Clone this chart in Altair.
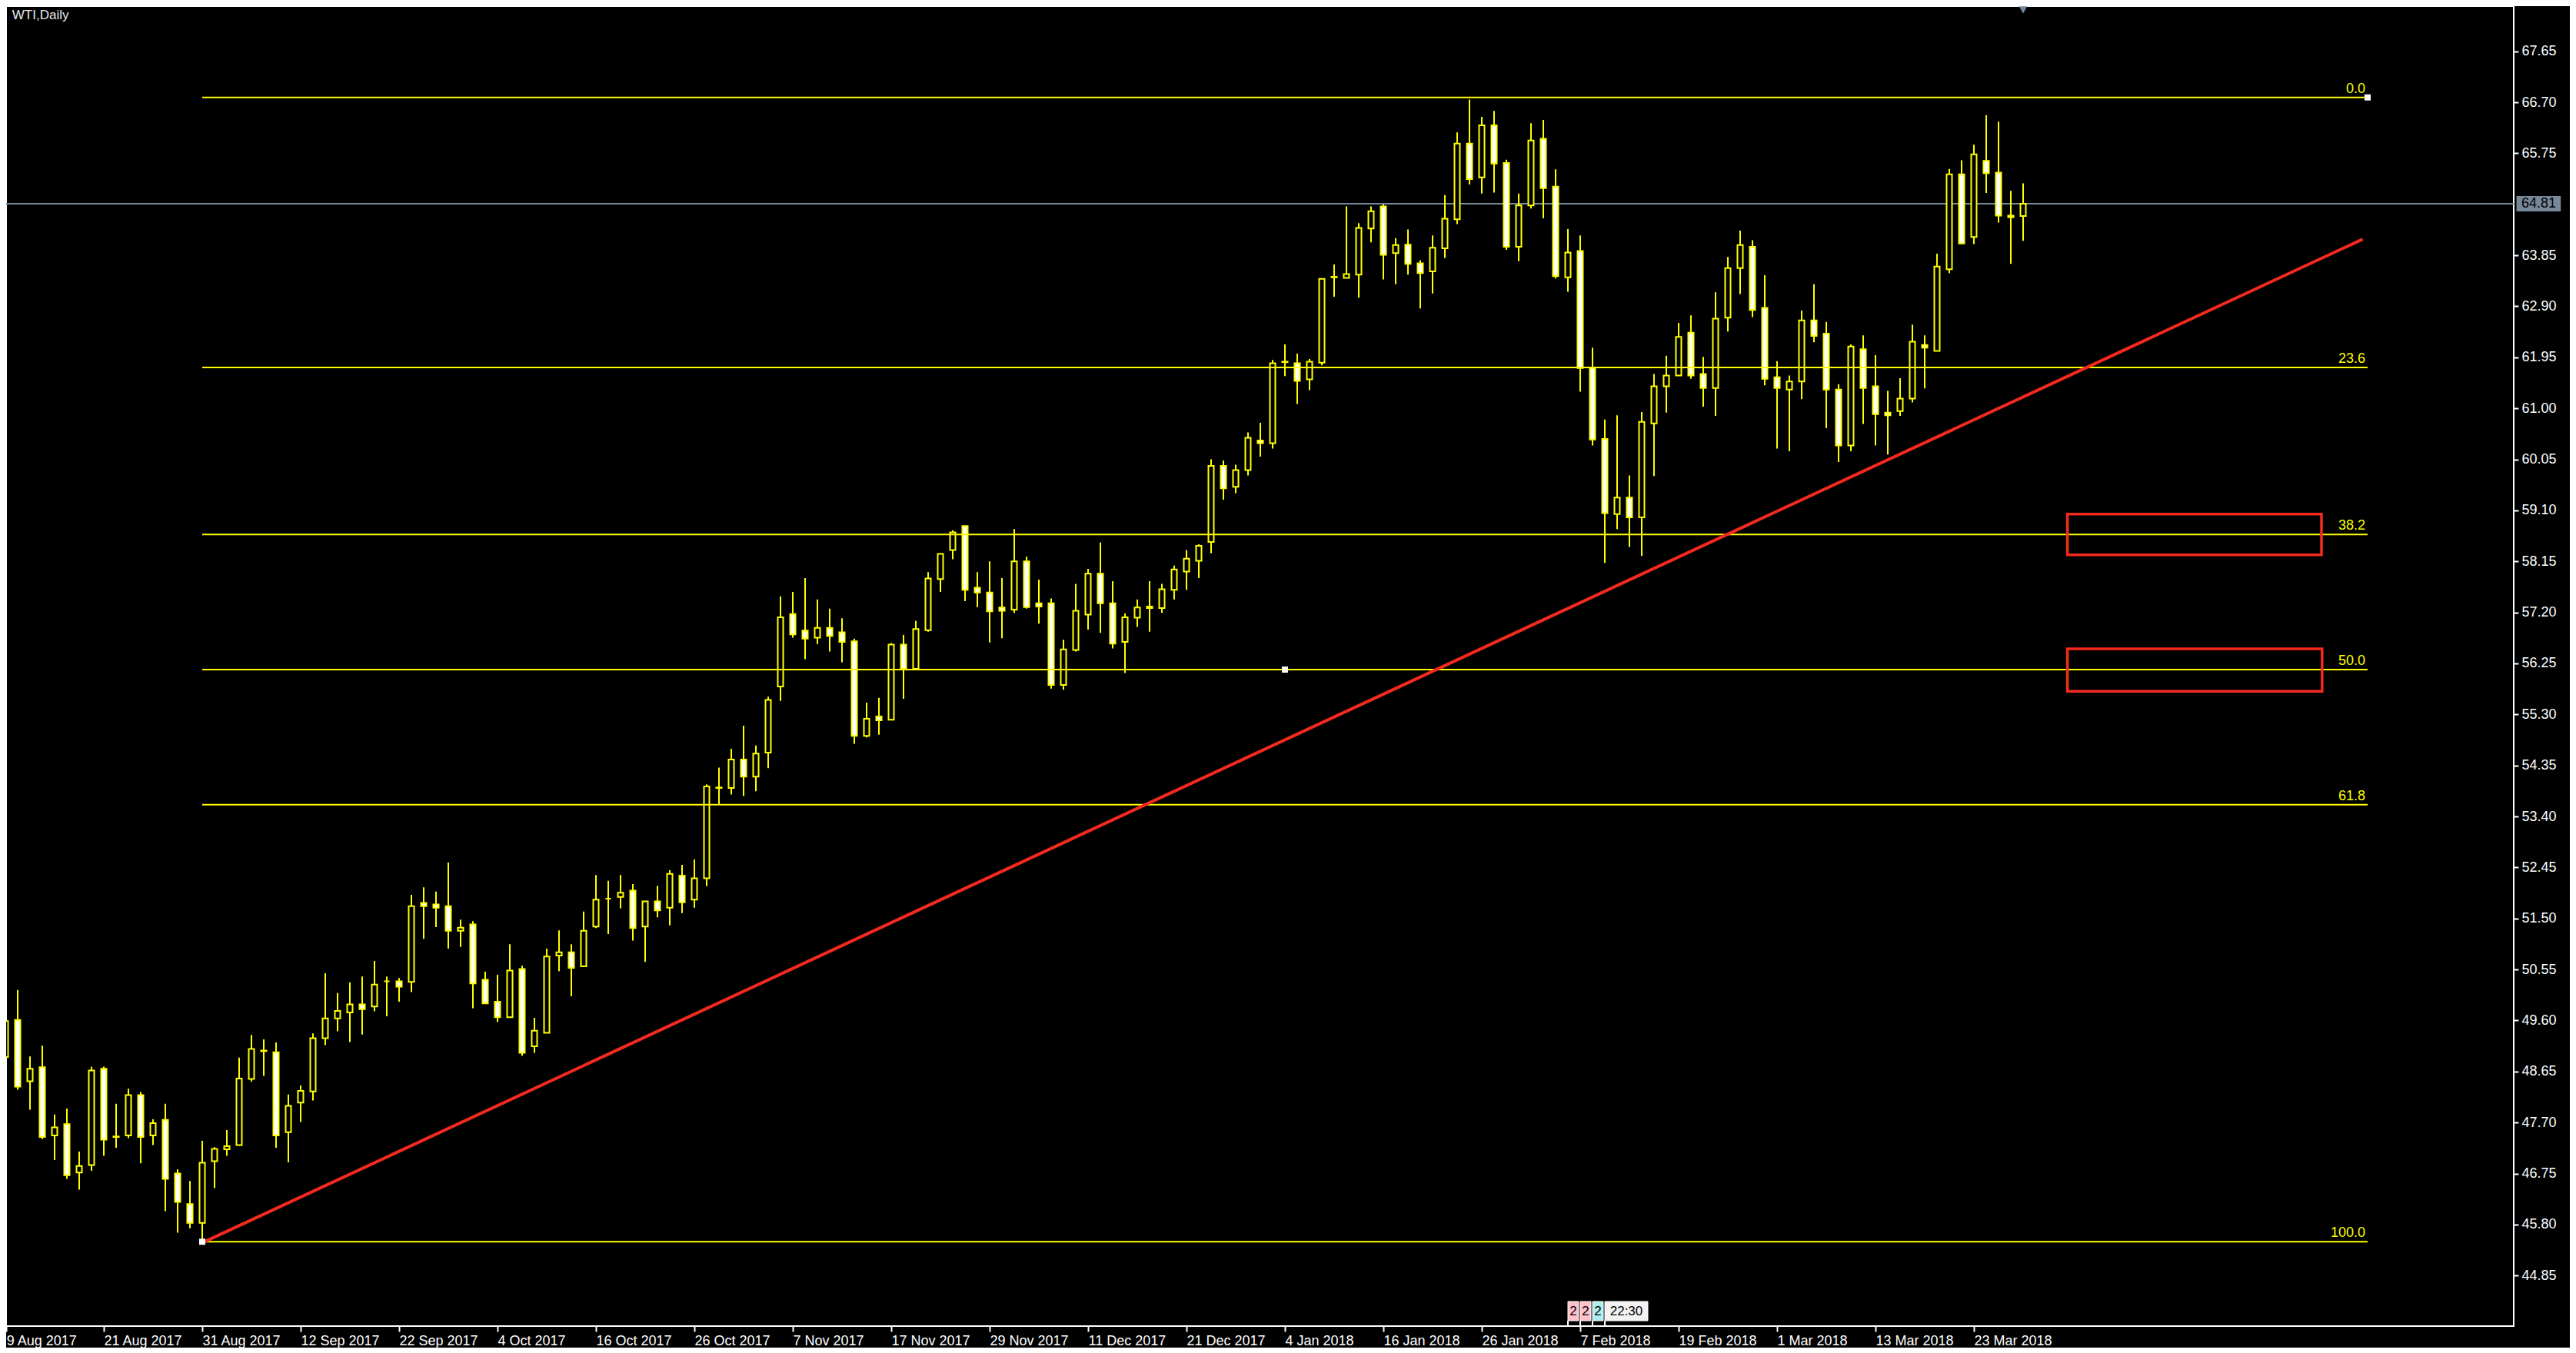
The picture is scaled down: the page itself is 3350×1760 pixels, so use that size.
import altair as alt
import pandas as pd
import numpy as np

# ---------------- data ----------------
opens = [48.92, 49.61, 48.47, 48.73, 47.46, 47.67, 46.77, 46.91, 48.70, 47.44,
         47.46, 48.21, 47.46, 47.75, 46.75, 46.18, 45.83, 46.98, 47.20, 47.28,
         48.51, 49.04, 49.01, 47.52, 48.07, 48.28, 49.27, 49.64, 49.75, 49.90,
         49.86, 50.33, 50.33, 50.32, 51.79, 51.76, 51.73, 51.27, 51.39, 50.36,
         49.95, 49.66, 50.56, 49.12, 49.37, 50.81, 50.87, 50.61, 51.35, 51.87,
         51.90, 52.02, 51.35, 51.82, 51.70, 52.30, 51.85, 52.25, 53.94, 53.93,
         54.46, 54.14, 54.59, 55.82, 57.17, 56.86, 56.73, 56.91, 56.83, 56.66,
         54.90, 55.26, 55.20, 56.60, 56.15, 56.87, 57.82, 58.36, 58.81, 57.66,
         57.57, 57.29, 57.25, 58.15, 57.37, 57.37, 55.85, 56.50, 57.16, 57.92,
         57.37, 56.65, 57.10, 57.31, 57.28, 57.62, 57.96, 58.16, 58.51, 59.93,
         59.54, 59.85, 60.40, 60.35, 61.87, 61.84, 61.54, 61.85, 63.45, 63.43,
         63.49, 64.35, 64.76, 63.89, 64.05, 63.70, 63.55, 63.98, 64.52, 65.93,
         65.30, 66.27, 65.57, 64.01, 64.78, 66.02, 65.13, 63.44, 63.93, 61.75,
         60.43, 59.03, 59.34, 58.97, 60.72, 61.41, 61.61, 62.41, 61.64, 61.38,
         62.69, 63.61, 64.01, 62.87, 61.58, 61.35, 61.50, 62.64, 62.39, 61.35,
         60.31, 62.10, 61.41, 60.92, 60.95, 61.18, 62.18, 62.07, 63.59, 65.36,
         64.19, 65.61, 65.39, 64.59, 64.58]
highs = [49.75, 50.17, 48.93, 49.13, 47.85, 47.96, 47.16, 48.74, 48.74, 48.05,
         48.33, 48.27, 47.76, 48.05, 46.83, 46.61, 47.36, 47.24, 47.56, 48.91,
         49.33, 49.25, 49.19, 48.22, 48.39, 49.36, 50.48, 50.11, 50.31, 50.42,
         50.71, 50.42, 50.39, 51.94, 52.08, 52.00, 52.54, 51.48, 51.45, 50.51,
         50.45, 51.02, 50.62, 49.65, 50.94, 51.28, 51.02, 51.63, 52.31, 52.20,
         52.31, 52.14, 51.82, 52.11, 52.40, 52.50, 52.60, 54.00, 54.31, 54.66,
         55.09, 54.72, 55.63, 57.50, 57.58, 57.84, 57.44, 57.27, 57.09, 56.71,
         55.52, 55.61, 56.63, 56.78, 57.04, 57.95, 58.29, 58.73, 58.81, 57.95,
         58.15, 57.84, 58.75, 58.24, 57.81, 57.46, 56.69, 57.73, 58.01, 58.50,
         57.78, 57.18, 57.44, 57.78, 57.73, 58.07, 58.36, 58.47, 60.05, 60.03,
         59.95, 60.55, 60.73, 61.90, 62.19, 62.02, 61.92, 63.41, 63.68, 64.76,
         64.45, 64.76, 64.80, 64.17, 64.33, 63.76, 64.22, 64.97, 66.14, 66.75,
         66.43, 66.54, 65.63, 65.00, 66.31, 66.37, 65.45, 64.34, 64.22, 62.13,
         60.79, 60.87, 59.75, 60.93, 61.64, 61.98, 62.59, 62.73, 61.96, 63.16,
         63.82, 64.31, 64.13, 63.48, 61.88, 61.61, 62.82, 63.31, 62.61, 61.45,
         62.19, 62.36, 61.99, 61.33, 61.56, 62.56, 62.36, 63.88, 65.46, 65.62,
         65.91, 66.46, 66.34, 65.05, 65.19]
lows = [48.85, 48.31, 47.94, 47.39, 47.00, 46.65, 46.45, 46.80, 47.08, 47.23,
        47.41, 46.94, 47.28, 46.05, 45.65, 45.73, 45.48, 46.48, 47.08, 47.27,
        48.46, 48.57, 47.23, 46.96, 47.71, 48.11, 49.14, 49.40, 49.20, 49.34,
        49.77, 49.68, 49.95, 50.13, 51.12, 51.34, 50.94, 50.97, 49.83, 49.91,
        49.57, 49.66, 48.94, 49.00, 49.37, 50.52, 50.05, 50.60, 51.32, 51.21,
        51.69, 51.09, 50.69, 51.52, 51.37, 51.60, 51.70, 52.10, 53.62, 53.81,
        53.78, 53.87, 54.30, 55.55, 56.73, 56.33, 56.61, 56.47, 56.27, 54.75,
        54.87, 54.92, 55.19, 55.59, 56.15, 56.84, 57.58, 58.19, 57.41, 57.30,
        56.64, 56.72, 57.19, 57.27, 56.99, 55.78, 55.76, 56.47, 56.88, 56.82,
        56.53, 56.07, 56.93, 56.84, 57.19, 57.44, 57.62, 57.84, 58.30, 59.30,
        59.42, 59.75, 60.10, 60.25, 61.60, 61.08, 61.34, 61.80, 63.08, 63.43,
        63.06, 64.09, 63.40, 63.31, 63.49, 62.86, 63.14, 63.80, 64.43, 65.17,
        65.00, 65.02, 63.95, 63.74, 64.72, 64.54, 63.42, 63.17, 61.31, 60.31,
        58.12, 58.75, 58.42, 58.25, 59.74, 60.92, 61.61, 61.55, 61.03, 60.86,
        62.43, 63.13, 62.70, 61.43, 60.25, 60.20, 61.17, 62.23, 60.63, 60.00,
        60.20, 60.71, 60.31, 60.14, 60.86, 61.11, 61.37, 62.07, 63.52, 64.07,
        64.06, 65.01, 64.46, 63.69, 64.12]
closes = [49.59, 48.37, 48.70, 47.43, 47.61, 46.72, 46.89, 48.67, 47.38, 47.43,
          48.21, 47.43, 47.69, 46.65, 46.22, 45.83, 46.95, 47.21, 47.26, 48.52,
          49.07, 49.03, 47.46, 48.01, 48.29, 49.27, 49.64, 49.78, 49.90, 49.81,
          50.27, 50.33, 50.23, 51.73, 51.73, 51.70, 51.27, 51.33, 50.29, 49.92,
          49.66, 50.53, 49.00, 49.41, 50.79, 50.87, 50.58, 51.27, 51.85, 51.87,
          51.98, 51.32, 51.82, 51.65, 52.33, 51.80, 52.25, 53.96, 53.93, 54.46,
          54.14, 54.57, 55.57, 57.11, 56.79, 56.71, 56.91, 56.76, 56.65, 54.90,
          55.22, 55.19, 56.60, 56.15, 56.89, 57.83, 58.29, 58.69, 57.62, 57.57,
          57.22, 57.23, 58.15, 57.30, 57.31, 55.85, 56.51, 57.23, 57.92, 57.37,
          56.62, 57.11, 57.29, 57.28, 57.63, 58.00, 58.20, 58.44, 59.93, 59.51,
          59.85, 60.45, 60.35, 61.84, 61.86, 61.51, 61.87, 63.41, 63.44, 63.50,
          64.36, 64.67, 63.86, 64.04, 63.69, 63.52, 63.99, 64.53, 65.93, 65.27,
          66.27, 65.56, 64.01, 64.78, 65.99, 65.10, 63.46, 63.90, 61.75, 60.42,
          59.05, 59.34, 58.97, 60.75, 61.41, 61.61, 62.33, 61.61, 61.38, 62.67,
          63.61, 64.04, 62.83, 61.55, 61.38, 61.50, 62.64, 62.35, 61.35, 60.31,
          62.15, 61.38, 60.89, 60.87, 61.18, 62.24, 62.13, 63.64, 65.36, 64.07,
          65.73, 65.38, 64.59, 64.56, 64.81]

x_tick_labels = ["9 Aug 2017", "21 Aug 2017", "31 Aug 2017", "12 Sep 2017", "22 Sep 2017",
                 "4 Oct 2017", "16 Oct 2017", "26 Oct 2017", "7 Nov 2017", "17 Nov 2017",
                 "29 Nov 2017", "11 Dec 2017", "21 Dec 2017", "4 Jan 2018", "16 Jan 2018",
                 "26 Jan 2018", "7 Feb 2018", "19 Feb 2018", "1 Mar 2018", "13 Mar 2018",
                 "23 Mar 2018"]
x_tick_bars = [0, 8, 16, 24, 32, 40, 48, 56, 64, 72, 80, 88, 96, 104, 112, 120, 128,
               136, 144, 152, 160]
y_tick_values = [44.85, 45.80, 46.75, 47.70, 48.65, 49.60, 50.55, 51.50, 52.45, 53.40,
                 54.35, 55.30, 56.25, 57.20, 58.15, 59.10, 60.05, 61.00, 61.95, 62.90,
                 63.85, 65.75, 66.70, 67.65]

fib_names = ["0.0", "23.6", "38.2", "50.0", "61.8", "100.0"]
fib_ratios = [0.0, 0.236, 0.382, 0.5, 0.618, 1.0]
fib_high = 66.79
fib_low = 45.48
fib_start_bar = 16
fib_end_bar = 192

trend_bars = [16, 191.6]
trend_prices = [45.46, 64.15]

box_left = [167.6, 167.6]
box_right = [188.25, 188.3]
box_bottom = [58.27, 55.73]
box_top = [59.03, 56.52]

last_price = 64.81
symbol_title = "WTI,Daily"
event_texts = ["2", "2", "2", "22:30"]
event_colors = ["#ffc0cb", "#ffc0cb", "#afeeee", "#f2f2f2"]
event_left = [127.0, 128.0, 129.0, 130.0]
event_right = [127.875, 128.875, 129.875, 133.5]

# ---------------- styles ----------------
YEL = "#ffff00"
RED = "#f42a1e"
GRAY = "#778899"
FONT = "Liberation Sans"
X_MIN, X_MAX = 0.0625, 203.875

xs = alt.Scale(domain=[X_MIN, X_MAX], nice=False, zero=False)
ys = alt.Scale(domain=[43.909, 68.49], nice=False, zero=False)

# the first label sits on the very left edge: keep its tick inside the range
tick_pos = [max(b, X_MIN + 0.01) for b in x_tick_bars]
label_js = "[" + ",".join("'" + s + "'" for s in x_tick_labels) + "]"
xaxis = alt.Axis(values=tick_pos, labelExpr=label_js + "[round(datum.value/8)]",
                 title=None, domain=False, grid=False, tickColor="white", tickSize=7,
                 tickWidth=2, labelColor="white", labelAlign="left", labelBaseline="top",
                 labelPadding=3, labelFont=FONT, labelFontSize=18, labelOverlap=False,
                 labelFlush=False, labelBound=False, orient="bottom")
yaxis = alt.Axis(values=y_tick_values, format=".2f", title=None, domain=False, grid=False,
                 tickColor="white", tickSize=6, tickWidth=2, labelColor="white",
                 labelAlign="left", labelBaseline="middle", labelPadding=4, labelFont=FONT,
                 labelFontSize=18, labelOverlap=False, labelFlush=False, labelBound=False,
                 orient="right")


def X(f):
    return alt.X(f, scale=xs, axis=xaxis)


def Y(f):
    return alt.Y(f, scale=ys, axis=yaxis)


n = len(opens)
df = pd.DataFrame({"i": np.arange(n), "o": opens, "h": highs, "l": lows, "c": closes})
df["xl"] = df["i"] - 0.219
df["xr"] = df["i"] + 0.219
df["fill"] = np.where(df["c"] < df["o"], "white", "black")

# current price line
price_df = pd.DataFrame({"a": [X_MIN], "b": [X_MAX], "p": [last_price]})
price_line = alt.Chart(price_df).mark_rule(color=GRAY, strokeWidth=2).encode(
    x=X("a:Q"), x2="b", y=Y("p:Q"))

wicks = alt.Chart(df).mark_rule(color=YEL, strokeWidth=2).encode(
    x=X("i:Q"), y=Y("l:Q"), y2="h")
bodies = alt.Chart(df).mark_rect(stroke=YEL, strokeWidth=2).encode(
    x=X("xl:Q"), x2="xr", y=Y("o:Q"), y2="c", fill=alt.Fill("fill:N", scale=None))

fib_df = pd.DataFrame({
    "name": fib_names,
    "p": [fib_high - r * (fib_high - fib_low) for r in fib_ratios],
    "a": [fib_start_bar] * len(fib_names),
    "b": [fib_end_bar] * len(fib_names),
})
fib_lines = alt.Chart(fib_df).mark_rule(color=YEL, strokeWidth=2).encode(
    x=X("a:Q"), x2="b", y=Y("p:Q"))
fib_text = alt.Chart(fib_df).mark_text(color=YEL, align="right", baseline="alphabetic",
                                       dx=-3, dy=-6, font=FONT, fontSize=18).encode(
    x=X("b:Q"), y=Y("p:Q"), text="name:N")

handle_df = pd.DataFrame({
    "i": [fib_start_bar, (fib_start_bar + fib_end_bar) / 2, fib_end_bar],
    "p": [fib_low, (fib_low + fib_high) / 2, fib_high]})
handles = alt.Chart(handle_df).mark_square(color="white", opacity=1, size=64).encode(
    x=X("i:Q"), y=Y("p:Q"))

box_df = pd.DataFrame({"a": box_left, "b": box_right, "lo": box_bottom, "hi": box_top})
boxes = alt.Chart(box_df).mark_rect(fill=None, fillOpacity=0, stroke=RED, strokeWidth=3.5).encode(
    x=X("a:Q"), x2="b", y=Y("lo:Q"), y2="hi")

trend_df = pd.DataFrame({"a": [trend_bars[0]], "b": [trend_bars[1]],
                         "pa": [trend_prices[0]], "pb": [trend_prices[1]]})
trend = alt.Chart(trend_df).mark_rule(color=RED, strokeWidth=4).encode(
    x=X("a:Q"), x2="b", y=Y("pa:Q"), y2="pb")

title_df = pd.DataFrame({"i": [0.55], "p": [68.32], "t": [symbol_title]})
title = alt.Chart(title_df).mark_text(color="#e8e8e8", align="left", baseline="middle",
                                      font=FONT, fontSize=17).encode(
    x=X("i:Q"), y=Y("p:Q"), text="t:N")

tri_df = pd.DataFrame({"i": [n - 1], "p": [68.42]})
tri = alt.Chart(tri_df).mark_point(shape="triangle-down", filled=True, color=GRAY,
                                   opacity=1, size=110).encode(x=X("i:Q"), y=Y("p:Q"))

# last price tag on the price axis
tag_df = pd.DataFrame({"a": [204.1], "b": [207.7], "lo": [64.668], "hi": [64.954],
                       "m": [205.9], "p": [last_price], "t": [f"{last_price:.2f}"]})
tag_box = alt.Chart(tag_df).mark_rect(color=GRAY).encode(
    x=X("a:Q"), x2="b", y=Y("lo:Q"), y2="hi")
tag_text = alt.Chart(tag_df).mark_text(color="black", align="center", baseline="middle",
                                       font=FONT, fontSize=18).encode(
    x=X("m:Q"), y=Y("p:Q"), text="t:N")

# event flags near the time axis
ev_df = pd.DataFrame({"a": event_left, "b": event_right, "col": event_colors,
                      "t": event_texts, "lo": [44.009] * 4, "hi": [44.367] * 4,
                      "bot": [43.909] * 4})
ev_df["m"] = (ev_df["a"] + ev_df["b"]) / 2
ev_df["pm"] = (ev_df["lo"] + ev_df["hi"]) / 2
ev_box = alt.Chart(ev_df).mark_rect(stroke="white", strokeWidth=1).encode(
    x=X("a:Q"), x2="b", y=Y("lo:Q"), y2="hi", fill=alt.Fill("col:N", scale=None))
ev_stem = alt.Chart(ev_df).mark_rule(color="white", strokeWidth=2).encode(
    x=X("a:Q"), y=Y("bot:Q"), y2="lo")
ev_text = alt.Chart(ev_df).mark_text(color="black", align="center", baseline="middle",
                                     font=FONT, fontSize=17).encode(
    x=X("m:Q"), y=Y("pm:Q"), text="t:N")

chart = alt.layer(
    price_line, wicks, bodies, fib_lines, fib_text, boxes, trend, handles,
    title, tri, tag_box, tag_text, ev_box, ev_stem, ev_text
).properties(
    width=3261, height=1717,
    autosize=alt.AutoSizeParams(type="none"),
    padding={"left": 0, "top": 0, "right": 73, "bottom": 28},
    background="black",
).configure_view(stroke="white", strokeWidth=2)

chart.save("out.html", embed_options={"renderer": "svg", "actions": False})
